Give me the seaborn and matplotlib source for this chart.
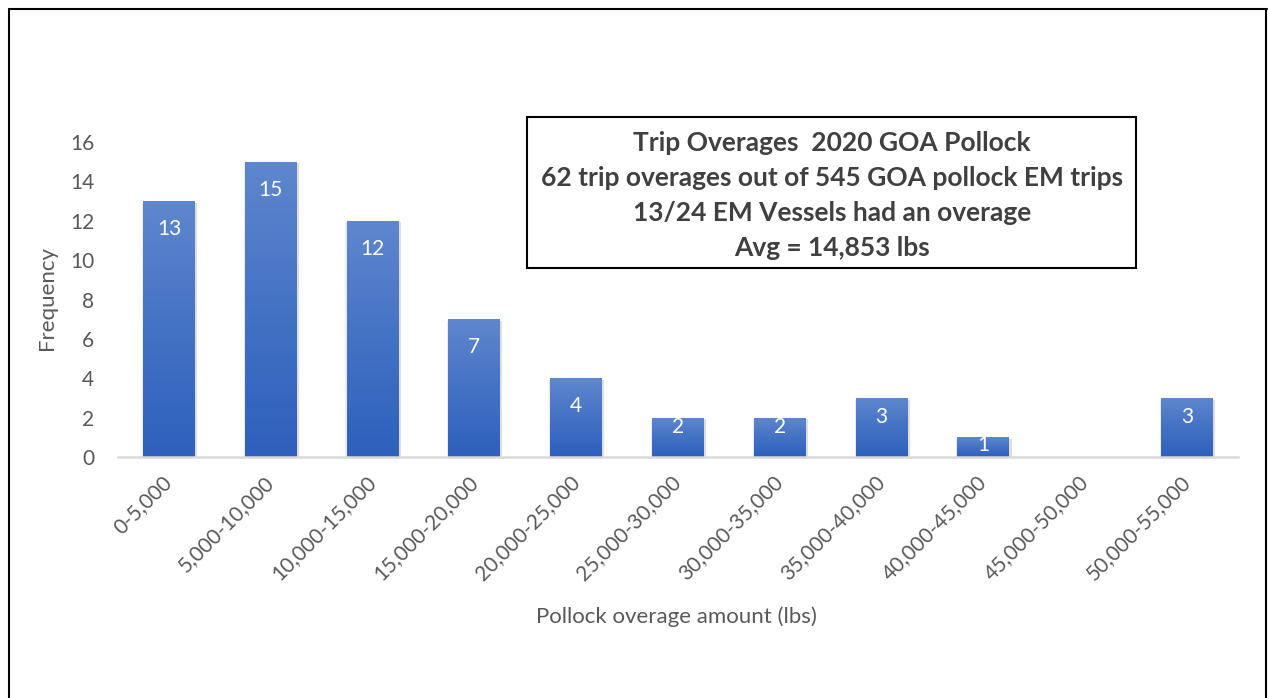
import numpy as np
import pandas as pd
import matplotlib
matplotlib.use("Agg")
import matplotlib.pyplot as plt
import matplotlib.patheffects as pe
from matplotlib.patches import Rectangle
from matplotlib.lines import Line2D
from matplotlib.colors import LinearSegmentedColormap
import seaborn as sns

categories = ["0-5,000", "5,000-10,000", "10,000-15,000", "15,000-20,000",
              "20,000-25,000", "25,000-30,000", "30,000-35,000", "35,000-40,000",
              "40,000-45,000", "45,000-50,000", "50,000-55,000"]
frequency = [13, 15, 12, 7, 4, 2, 2, 3, 1, 0, 3]
y_ticks = [0, 2, 4, 6, 8, 10, 12, 14, 16]
box_lines = ["Trip Overages  2020 GOA Pollock",
             "62 trip overages out of 545 GOA pollock EM trips",
             "13/24 EM Vessels had an overage",
             "Avg = 14,853 lbs"]
x_label = "Pollock overage amount (lbs)"
y_label = "Frequency"

sns.set_theme(style="white")
plt.rcParams['font.family'] = ['Lato', 'DejaVu Sans']

W, H = 1268, 698
fig = plt.figure(figsize=(W / 100, H / 100), dpi=100)
ax = fig.add_axes([118 / W, 1 - 457 / H, (1238 - 118) / W, (457 - 142) / H])

df = pd.DataFrame({"cat": categories, "freq": frequency})
sns.barplot(data=df, x="cat", y="freq", ax=ax, color="#4472C4", width=0.51,
            saturation=1, edgecolor="none", linewidth=0)

ax.set_xlim(-0.5, len(categories) - 0.5)
ax.set_ylim(0, 16)
ax.set_yticks(y_ticks)
ax.set_yticklabels([str(t) for t in y_ticks])

# gradient fill + soft shadow
grad = np.linspace(0, 1, 256).reshape(-1, 1)
cmap = LinearSegmentedColormap.from_list("g", ["#2E60BC", "#4472C4", "#5F87CE"])
for p in ax.patches:
    h = p.get_height()
    if h <= 0:
        continue
    p.set_path_effects([pe.SimplePatchShadow(offset=(1.5, -1.2), shadow_rgbFace="#000000", alpha=0.13),
                        pe.SimplePatchShadow(offset=(-0.8, -1.2), shadow_rgbFace="#000000", alpha=0.08),
                        pe.Normal()])
    x0 = p.get_x()
    w = p.get_width()
    im = ax.imshow(grad, extent=[x0, x0 + w, 0, h], origin="lower", cmap=cmap,
                   aspect="auto", zorder=p.get_zorder() + 0.1)
    im.set_clip_path(p)

ax.set_xlim(-0.5, len(categories) - 0.5)
ax.set_ylim(0, 16)

# data labels
px_per_unit = (457 - 142) / 16
for i, v in enumerate(frequency):
    if v <= 0:
        continue
    hpx = v * px_per_unit
    off = min(28, max(8, 0.45 * hpx - 8))
    ax.annotate(str(v), (i, v), xytext=(0, -off * 0.72), textcoords="offset points",
                ha="center", va="center", color="white", fontsize=15, zorder=10)

for s in ["top", "right", "left"]:
    ax.spines[s].set_visible(False)
ax.spines["bottom"].set_color("#D9D9D9")
ax.spines["bottom"].set_linewidth(1.8)
ax.tick_params(axis="both", length=0, colors="#595959", labelsize=15)
ax.tick_params(axis="y", pad=17)
ax.set_xticks(range(len(categories)))
ax.set_xticklabels(categories, rotation=45, ha="right", va="center", rotation_mode="anchor")
ax.tick_params(axis="x", pad=16)

ax.set_xlabel(x_label, color="#595959", fontsize=16)
ax.set_ylabel(y_label, color="#595959", fontsize=16)
ax.xaxis.set_label_coords((676 - 118) / (1238 - 118), -(617 - 457) / (457 - 142))
ax.yaxis.set_label_coords(-(118 - 47) / (1238 - 118), (457 - 298) / (457 - 142))
ax.xaxis.label.set_va("center")
ax.yaxis.label.set_va("center")

# text box
fig.patches.append(Rectangle((527 / W, 1 - 268 / H), (1136 - 527) / W, (268 - 117) / H,
                             transform=fig.transFigure, facecolor="white", edgecolor="black",
                             linewidth=1.5, zorder=5))
for yc, line in zip([143, 178, 213, 248], box_lines):
    fig.text(832 / W, 1 - yc / H, line, ha="center", va="center", fontsize=19,
             fontweight="bold", color="#404040", zorder=6)

# outer border (left, top, right)
for (xs, ys) in [([9, 9], [9, H]), ([9, 1267], [9, 9]), ([1266, 1266], [9, H])]:
    fig.add_artist(Line2D([x / W for x in xs], [1 - y / H for y in ys],
                          transform=fig.transFigure, color="black", linewidth=1.5))

fig.savefig("out.png", dpi=100)
